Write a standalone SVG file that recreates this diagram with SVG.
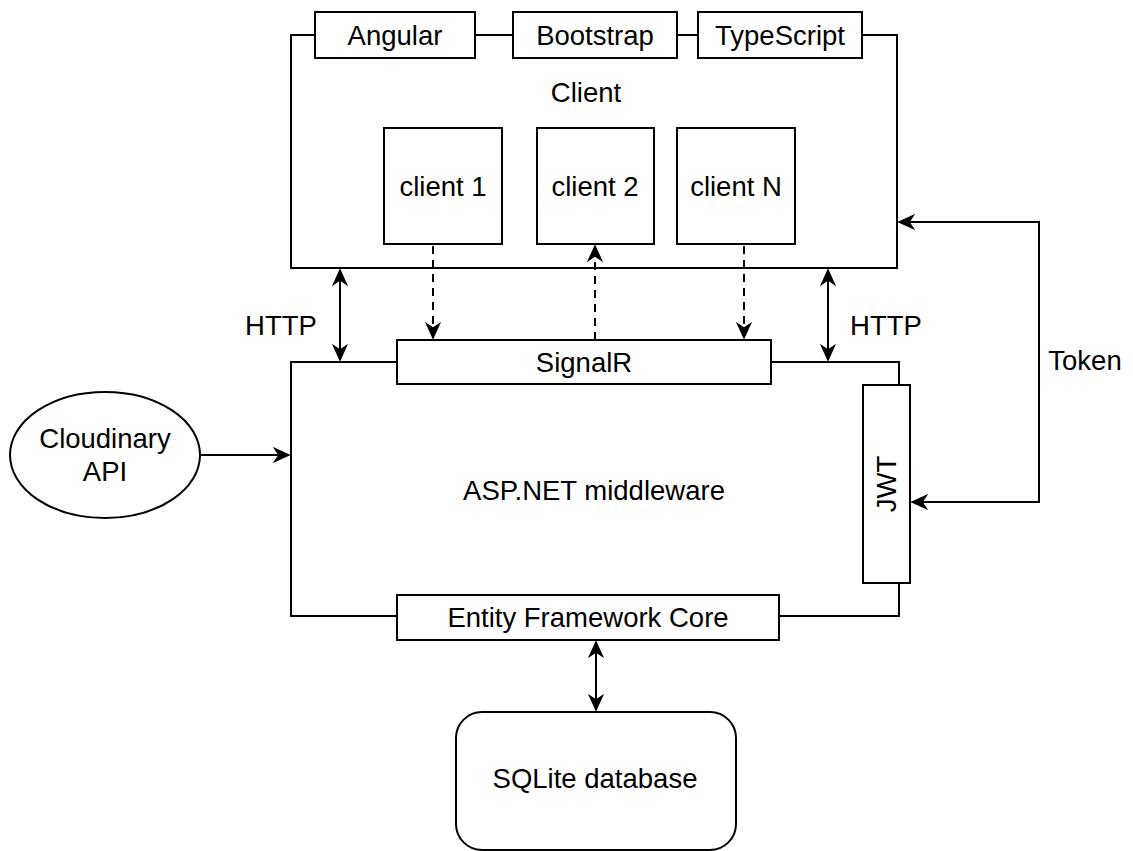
<svg xmlns="http://www.w3.org/2000/svg" width="1133" height="851" viewBox="0 0 1133 851">
<style>
.b{fill:#fff;stroke:#000;stroke-width:2}
.t{font-family:"Liberation Sans",Arial,sans-serif;font-size:27.5px;fill:#000;text-anchor:middle;dominant-baseline:central}
.c{fill:none;stroke:#000;stroke-width:2}
.d{fill:none;stroke:#000;stroke-width:2;stroke-dasharray:8 6}
</style>
<defs>
<marker id="ah2" viewBox="0 0 10 10" refX="9" refY="5" markerWidth="18" markerHeight="18" markerUnits="userSpaceOnUse" orient="auto-start-reverse">
<path d="M0,0.5 L10,5 L0,9.5 L3,5 Z" fill="#000"/>
</marker>
</defs>
<rect width="1133" height="851" fill="#fff"/>
<g id="client">
<path class="c" d="M315,35 H291 V268 H897 V35 H862"/>
<line class="c" x1="475" y1="35" x2="513" y2="35"/>
<line class="c" x1="677" y1="35" x2="698" y2="35"/>
<text class="t" x="586" y="92">Client</text>
</g>
<g id="angular"><rect class="b" x="315" y="12" width="160" height="46"/><text class="t" x="395" y="35">Angular</text></g>
<g id="bootstrap"><rect class="b" x="513" y="12" width="164" height="46"/><text class="t" x="595" y="35">Bootstrap</text></g>
<g id="typescript"><rect class="b" x="698" y="12" width="164" height="46"/><text class="t" x="780" y="35">TypeScript</text></g>
<g id="client1"><rect class="b" x="384" y="128" width="118" height="116"/><text class="t" x="443" y="186">client 1</text></g>
<g id="client2"><rect class="b" x="537" y="128" width="117" height="116"/><text class="t" x="595" y="186">client 2</text></g>
<g id="clientN"><rect class="b" x="677" y="128" width="118" height="116"/><text class="t" x="736" y="186">client N</text></g>
<g id="middleware">
<path class="c" d="M397,362 H291 V616 H397"/>
<path class="c" d="M771,362 H899 V385"/>
<path class="c" d="M779,616 H899 V583"/>
<text class="t" x="594" y="490">ASP.NET middleware</text>
</g>
<g id="signalr"><rect class="b" x="397" y="340" width="374" height="44"/><text class="t" x="584" y="362">SignalR</text></g>
<g id="jwt"><rect class="b" x="863" y="385" width="47" height="198"/><text class="t" transform="translate(886,484) rotate(-90)" x="0" y="0">JWT</text></g>
<g id="efcore"><rect class="b" x="397" y="595" width="382" height="45"/><text class="t" x="588" y="617">Entity Framework Core</text></g>
<g id="sqlite"><rect class="b" x="456" y="712" width="280" height="138" rx="26"/><text class="t" x="595" y="778">SQLite database</text></g>
<g id="cloudinary"><ellipse class="b" cx="105" cy="455" rx="95" ry="63"/><text class="t" x="105" y="438">Cloudinary</text><text class="t" x="105" y="471">API</text></g>
<g id="connectors">
<line class="c" x1="340" y1="270" x2="340" y2="360" marker-start="url(#ah2)" marker-end="url(#ah2)"/>
<line class="c" x1="828" y1="270" x2="828" y2="360" marker-start="url(#ah2)" marker-end="url(#ah2)"/>
<line class="d" x1="433" y1="246" x2="433" y2="338" marker-end="url(#ah2)"/>
<line class="d" x1="595" y1="340" x2="595" y2="246" marker-end="url(#ah2)"/>
<line class="d" x1="744" y1="246" x2="744" y2="338" marker-end="url(#ah2)"/>
<line class="c" x1="200" y1="455" x2="289" y2="455" marker-end="url(#ah2)"/>
<path class="c" d="M912,502 H1039 V222 H899" marker-start="url(#ah2)" marker-end="url(#ah2)"/>
<line class="c" x1="596" y1="642" x2="596" y2="710" marker-start="url(#ah2)" marker-end="url(#ah2)"/>
<text class="t" x="281" y="325">HTTP</text>
<text class="t" x="886" y="325">HTTP</text>
<text class="t" x="1085" y="360">Token</text>
</g>
</svg>
